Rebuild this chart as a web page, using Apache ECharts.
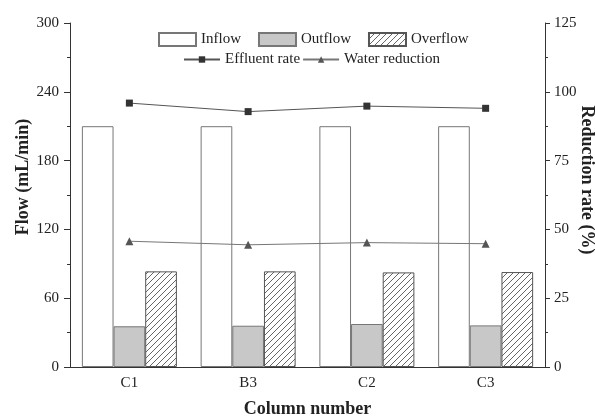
<!DOCTYPE html>
<html><head><meta charset="utf-8">
<script src="https://cdn.jsdelivr.net/npm/echarts@6/dist/echarts.min.js"></script>
<style>html,body{margin:0;padding:0;background:#fff}#c{width:595px;height:416px}</style>
</head><body><div id="c"></div>
<script>
const categories = ['C1', 'B3', 'C2', 'C3'];
const inflow = [210, 210, 210, 210];
const outflow = [35.5, 36, 37.5, 36.3];
const overflow = [83.4, 83.4, 82.5, 82.8];
const effluentRate = [95.9, 92.8, 94.8, 94.0];
const waterReduction = [45.7, 44.4, 45.2, 44.8];

function hatch() {
  const c = document.createElement('canvas');
  c.width = 6; c.height = 6;
  const g = c.getContext('2d');
  g.fillStyle = '#fff'; g.fillRect(0, 0, 6, 6);
  g.strokeStyle = '#555'; g.lineWidth = 0.9;
  g.beginPath();
  g.moveTo(-1, 7); g.lineTo(7, -1);
  g.moveTo(-1, 1); g.lineTo(1, -1);
  g.moveTo(5, 7); g.lineTo(7, 5);
  g.stroke();
  return { image: c, repeat: 'repeat' };
}

const font = 'Liberation Serif';
const axisCol = '#333';
const chart = echarts.init(document.getElementById('c'), null, { renderer: 'canvas' });
chart.setOption({
  animation: false,
  backgroundColor: '#fff',
  textStyle: { fontFamily: font },
  grid: { left: 70, right: 50, top: 23, bottom: 49, containLabel: false, outerBoundsMode: 'none' },
  legend: [
    { data: ['Inflow', 'Outflow', 'Overflow'], left: 158, top: 32, padding: 0, itemWidth: 37, itemHeight: 13, itemGap: 17,
      icon: 'rect',
      textStyle: { fontFamily: font, fontSize: 15, color: '#222' } },
    { data: ['Effluent rate', 'Water reduction'], left: 183, top: 52, padding: 0, itemWidth: 36, itemHeight: 8, itemGap: 2,
      textStyle: { fontFamily: font, fontSize: 15, color: '#222' } }
  ],
  xAxis: [
    { type: 'category', data: categories, position: 'bottom',
      axisLine: { lineStyle: { color: axisCol, width: 1 } },
      axisTick: { alignWithLabel: true, length: 5, lineStyle: { color: axisCol } },
      axisLabel: { fontFamily: font, fontSize: 15, color: '#222', margin: 9 },
      name: 'Column number', nameLocation: 'middle', nameGap: 33, nameMoveOverlap: false,
      nameTextStyle: { fontFamily: font, fontSize: 18, fontWeight: 'bold', color: '#222' } },
    { type: 'category', data: categories, position: 'bottom',
      axisLine: { show: false },
      axisTick: { inside: true, length: 4, lineStyle: { color: axisCol } },
      axisLabel: { show: false } }
  ],
  yAxis: [
    { type: 'value', min: 0, max: 300, interval: 60, position: 'left',
      axisLine: { show: true, lineStyle: { color: axisCol, width: 1 } },
      axisTick: { show: true, length: 6, lineStyle: { color: axisCol } },
      minorTick: { show: true, splitNumber: 2, length: 3, lineStyle: { color: axisCol } },
      splitLine: { show: false },
      axisLabel: { fontFamily: font, fontSize: 15, color: '#222', margin: 11 },
      name: 'Flow (mL/min)', nameLocation: 'middle', nameGap: 38, nameRotate: 90, nameMoveOverlap: false,
      nameTextStyle: { fontFamily: font, fontSize: 18, fontWeight: 'bold', color: '#222', padding: [0, 0, 0, 36] } },
    { type: 'value', min: 0, max: 125, interval: 25, position: 'right',
      axisLine: { show: true, lineStyle: { color: axisCol, width: 1 } },
      axisTick: { show: true, length: 5, lineStyle: { color: axisCol } },
      minorTick: { show: true, splitNumber: 2, length: 3, lineStyle: { color: axisCol } },
      splitLine: { show: false },
      axisLabel: { fontFamily: font, fontSize: 15, color: '#222', margin: 9 },
      name: 'Reduction rate (%)', nameLocation: 'middle', nameGap: 33, nameRotate: -90, nameMoveOverlap: false,
      nameTextStyle: { fontFamily: font, fontSize: 18, fontWeight: 'bold', color: '#222', padding: [0, 30, 0, 0] } }
  ],
  series: [
    { name: 'Inflow', type: 'bar', data: inflow, barGap: '0%', barCategoryGap: '20%',
      itemStyle: { color: '#fff', borderColor: '#777', borderWidth: 1 } },
    { name: 'Outflow', type: 'bar', data: outflow,
      itemStyle: { color: '#c8c8c8', borderColor: '#777', borderWidth: 1 } },
    { name: 'Overflow', type: 'bar', data: overflow,
      itemStyle: { color: hatch(), borderColor: '#555', borderWidth: 1 } },
    { name: 'Effluent rate', type: 'line', yAxisIndex: 1, data: effluentRate,
      symbol: 'rect', symbolSize: 7, lineStyle: { color: '#555', width: 1 },
      itemStyle: { color: '#333' } },
    { name: 'Water reduction', type: 'line', yAxisIndex: 1, data: waterReduction,
      symbol: 'triangle', symbolSize: 8, lineStyle: { color: '#777', width: 1 },
      itemStyle: { color: '#555' } }
  ]
});
</script></body></html>
